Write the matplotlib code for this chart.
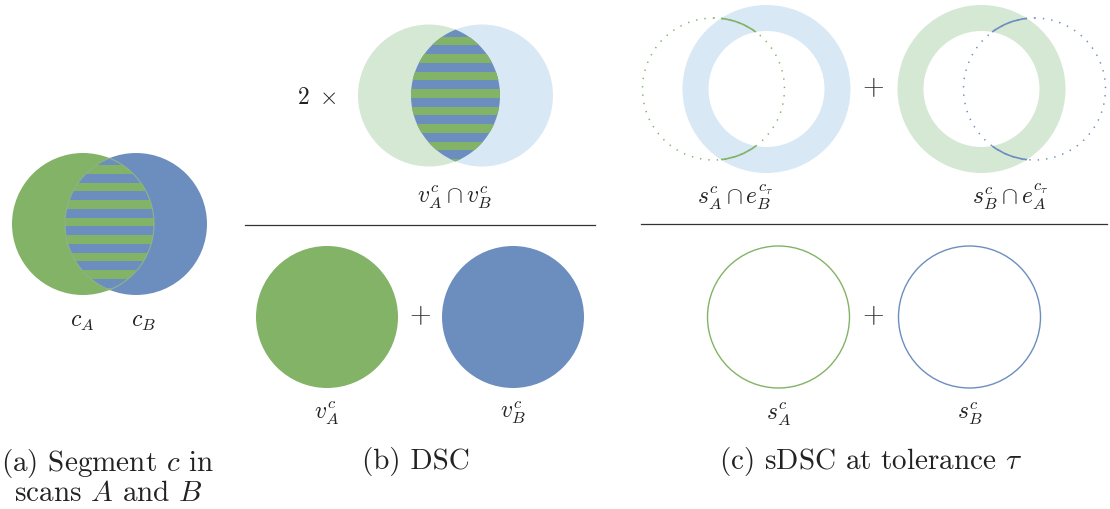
import numpy as np
import matplotlib
matplotlib.use("Agg")
import matplotlib.pyplot as plt
from matplotlib.patches import Circle, Wedge, Arc, PathPatch
from matplotlib.path import Path

plt.rcParams["font.family"] = ["cmr10", "DejaVu Serif"]
plt.rcParams["mathtext.fontset"] = "cm"
plt.rcParams["axes.unicode_minus"] = False

# --- colours -------------------------------------------------------------
GREEN = "#82b366"
BLUE = "#6c8ebf"
LIGHT_GREEN = "#d5e8d4"
LIGHT_BLUE = "#d8e8f5"
INK = "#222222"

# --- geometry of the sketch (pixel units) --------------------------------
RADIUS = 71.0        # segment radius
OFFSET = 53.0        # shift between scan A and scan B
TOLERANCE = 13.0     # surface tolerance tau
STRIPE_PERIOD = 17.5
STRIPE_WIDTH = 8.5

# --- text -----------------------------------------------------------------
panel_captions = [
    "(a) Segment $c$ in\nscans $A$ and $B$",
    "(b) DSC",
    "(c) sDSC at tolerance $\\tau$",
]
venn_labels = ["$c_A$", "$c_B$"]
dsc_numerator = "$v_A^c \\cap v_B^c$"
dsc_denominator = ["$v_A^c$", "$v_B^c$"]
sdsc_numerator = ["$s_A^c \\cap e_B^{c_\\tau}$", "$s_B^c \\cap e_A^{c_\\tau}$"]
sdsc_denominator = ["$s_A^c$", "$s_B^c$"]

fig = plt.figure(figsize=(11.10, 5.09), dpi=100)
ax = fig.add_axes([0, 0, 1, 1])
ax.set_xlim(0, 1110)
ax.set_ylim(509, 0)
ax.axis("off")


def lens_path(xa, xb, y, r):
    """Closed path of the overlap of two equal circles centred on one row."""
    d = xb - xa
    phi = np.arccos(d / 2.0 / r)
    t1 = np.linspace(-phi, phi, 120)
    t2 = np.linspace(np.pi - phi, np.pi + phi, 120)
    pts = np.vstack([
        np.column_stack([xa + r * np.cos(t1), y + r * np.sin(t1)]),
        np.column_stack([xb + r * np.cos(t2), y + r * np.sin(t2)]),
    ])
    pts = np.vstack([pts, pts[:1]])
    codes = [Path.MOVETO] + [Path.LINETO] * (len(pts) - 2) + [Path.CLOSEPOLY]
    return Path(pts, codes)


def striped_lens(xa, xb, y, r, outline=False):
    path = lens_path(xa, xb, y, r)
    base = PathPatch(path, facecolor=BLUE, edgecolor="none", zorder=3)
    ax.add_patch(base)
    clip = PathPatch(path, facecolor="none", edgecolor="none")
    ax.add_patch(clip)
    k = np.arange(-6, 7)
    for top in y - 6.5 + k * STRIPE_PERIOD:
        bar = ax.fill_between([xa - r, xb + r], top, top + STRIPE_WIDTH,
                              color=GREEN, lw=0, zorder=4)
        bar.set_clip_path(clip)
    if outline:
        ax.add_patch(PathPatch(path, facecolor="none", edgecolor="#8fb38a",
                               lw=0.8, zorder=5))


# --- (a) segment in both scans --------------------------------------------
ya, xa = 224.0, 83.0
ax.add_patch(Circle((xa, ya), RADIUS, color=GREEN, lw=0, zorder=1))
ax.add_patch(Circle((xa + OFFSET, ya), RADIUS, color=BLUE, lw=0, zorder=2))
striped_lens(xa, xa + OFFSET, ya, RADIUS, outline=True)
ax.text(82, 322, venn_labels[0], fontsize=17, ha="center", va="center", color=INK)
ax.text(143, 322, venn_labels[1], fontsize=17, ha="center", va="center", color=INK)

# --- (b) DSC ----------------------------------------------------------------
yb, xb = 95.5, 429.0
ax.add_patch(Circle((xb, yb), RADIUS, color=LIGHT_GREEN, lw=0, zorder=1))
ax.add_patch(Circle((xb + OFFSET, yb), RADIUS, color=LIGHT_BLUE, lw=0, zorder=1))
# keep the light-green half visible under the light blue one
ax.add_patch(PathPatch(lens_path(xb, xb + OFFSET, yb, RADIUS), color=LIGHT_BLUE, lw=0, zorder=1))
striped_lens(xb, xb + OFFSET, yb, RADIUS)
ax.text(317, 98, r"$2\ \times$", fontsize=17, ha="center", va="center", color=INK)
ax.text(455, 197, dsc_numerator, fontsize=17, ha="center", va="center", color=INK)
ax.plot([245, 595], [225, 225], color="#333333", lw=0.9)

ax.add_patch(Circle((327, 317), RADIUS, color=GREEN, lw=0))
ax.add_patch(Circle((513, 317), RADIUS, color=BLUE, lw=0))
ax.text(420, 316, "+", fontsize=20, ha="center", va="center", color="#333333")
ax.text(327, 413, dsc_denominator[0], fontsize=17, ha="center", va="center", color=INK)
ax.text(513, 413, dsc_denominator[1], fontsize=17, ha="center", va="center", color=INK)

# --- (c) surface DSC --------------------------------------------------------
yc = 89.0
ring_w = 2 * TOLERANCE
dots = (0, (0.9, 4.6))


def ring_with_surface(ring_x, surf_x, ring_col, surf_col):
    ax.add_patch(Wedge((ring_x, yc), RADIUS + TOLERANCE, 0, 360, width=ring_w,
                       color=ring_col, lw=0, zorder=1))
    ax.add_patch(Circle((surf_x, yc), RADIUS, fill=False, edgecolor=surf_col,
                        lw=1.1, linestyle=dots, zorder=2))
    d = abs(ring_x - surf_x)
    c_out = (RADIUS**2 + d**2 - (RADIUS + TOLERANCE) ** 2) / (2 * RADIUS * d)
    c_in = (RADIUS**2 + d**2 - (RADIUS - TOLERANCE) ** 2) / (2 * RADIUS * d)
    t_out = np.degrees(np.arccos(c_out))
    t_in = np.degrees(np.arccos(c_in))
    base = 0.0 if ring_x > surf_x else 180.0
    for sgn in (1, -1):
        a1, a2 = sorted([base + sgn * t_in, base + sgn * t_out]) if base == 0 else \
            sorted([base - sgn * t_in, base - sgn * t_out])
        ax.add_patch(Arc((surf_x, yc), 2 * RADIUS, 2 * RADIUS, theta1=a1, theta2=a2,
                         edgecolor=surf_col, lw=1.2, zorder=3))


ring_with_surface(766.5, 713.5, LIGHT_BLUE, GREEN)
ring_with_surface(981.5, 1034.5, LIGHT_GREEN, BLUE)
ax.text(873, 88, "+", fontsize=20, ha="center", va="center", color="#333333")
ax.text(735, 197, sdsc_numerator[0], fontsize=17, ha="center", va="center", color=INK)
ax.text(1010, 197, sdsc_numerator[1], fontsize=17, ha="center", va="center", color=INK)
ax.plot([641, 1107], [224, 224], color="#333333", lw=0.9)

ax.add_patch(Circle((778.5, 317), RADIUS, fill=False, edgecolor=GREEN, lw=1.0))
ax.add_patch(Circle((969.5, 317), RADIUS, fill=False, edgecolor=BLUE, lw=1.0))
ax.text(873, 316, "+", fontsize=20, ha="center", va="center", color="#333333")
ax.text(778, 414, sdsc_denominator[0], fontsize=17, ha="center", va="center", color=INK)
ax.text(970, 414, sdsc_denominator[1], fontsize=17, ha="center", va="center", color=INK)

# --- captions ----------------------------------------------------------------
ax.text(108, 477, panel_captions[0], fontsize=21, ha="center", va="center",
        multialignment="center", color=INK, linespacing=1.05)
ax.text(416, 462, panel_captions[1], fontsize=21, ha="center", va="center", color=INK)
ax.text(871, 462, panel_captions[2], fontsize=21, ha="center", va="center", color=INK)

fig.savefig("out.png", dpi=100)
